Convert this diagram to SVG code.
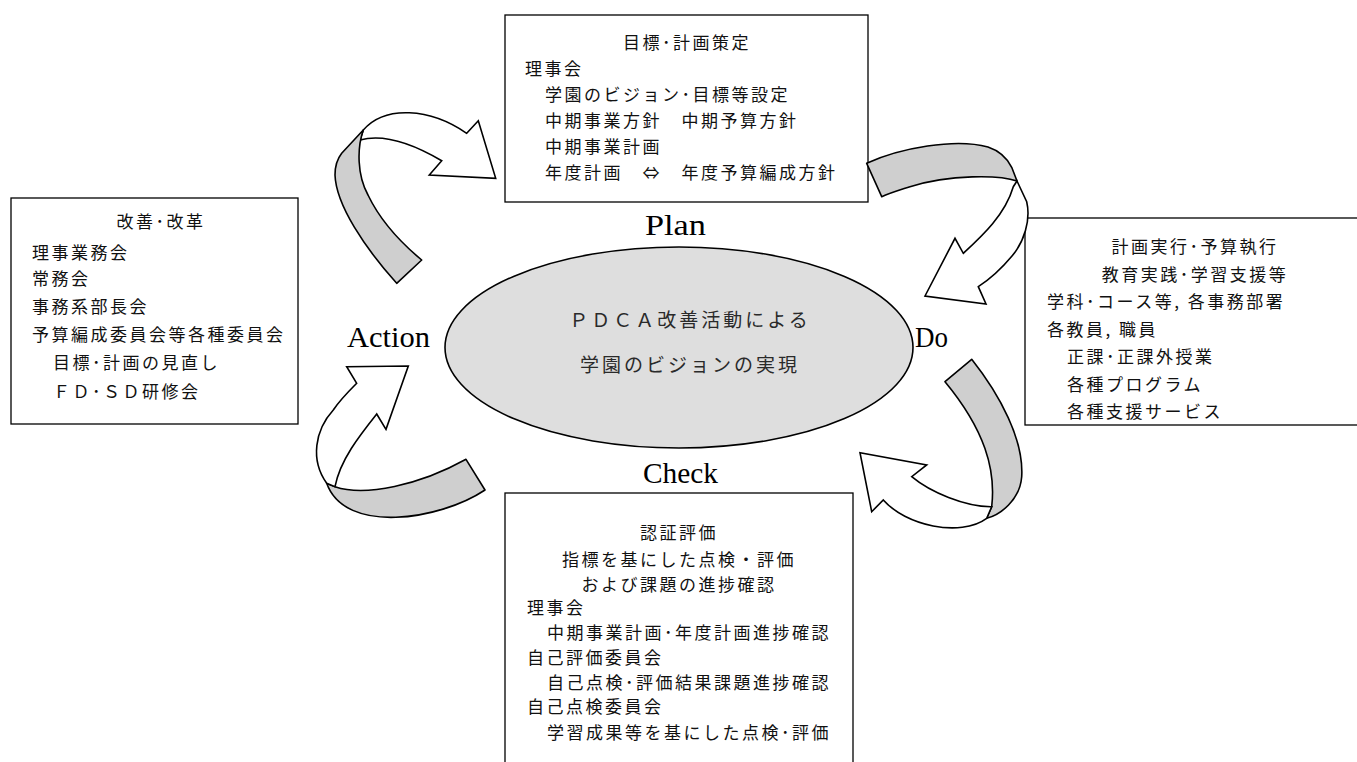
<svg xmlns="http://www.w3.org/2000/svg" width="1357" height="762" viewBox="0 0 1357 762">
<style>
.box{fill:#fff;stroke:#000;stroke-width:1.3}
.t{font-family:"Noto Sans CJK JP","Noto Sans CJK SC",sans-serif;font-size:17px;letter-spacing:2.5px;fill:#111}
.c{text-anchor:middle}
.lbl{font-family:"Liberation Serif",serif;font-size:29px;fill:#000}
.ct{font-family:"Noto Sans CJK JP",sans-serif;font-size:19px;letter-spacing:3px;fill:#2a2a2a;text-anchor:middle}
.g{fill:#cfcfcf;stroke:#000;stroke-width:1.6;stroke-linejoin:round}
.w{fill:#fff;stroke:#000;stroke-width:1.6;stroke-linejoin:miter}
</style>
<rect width="1357" height="762" fill="#fff"/>

<g id="plan-box">
<rect class="box" x="505" y="15" width="363" height="187"/>
<text class="t c" x="687" y="49">目標･計画策定</text>
<text class="t" x="525" y="75">理事会</text>
<text class="t" x="545" y="101">学園のビジョン･目標等設定</text>
<text class="t" x="545" y="127">中期事業方針　中期予算方針</text>
<text class="t" x="545" y="153">中期事業計画</text>
<text class="t" x="545" y="179">年度計画　⇔　年度予算編成方針</text>
</g>

<g id="action-box">
<rect class="box" x="11" y="198" width="287" height="226"/>
<text class="t c" x="161" y="228">改善･改革</text>
<text class="t" x="32" y="259">理事業務会</text>
<text class="t" x="32" y="285">常務会</text>
<text class="t" x="32" y="313">事務系部長会</text>
<text class="t" x="32" y="341">予算編成委員会等各種委員会</text>
<text class="t" x="53" y="369">目標･計画の見直し</text>
<text class="t" x="53" y="398">ＦＤ･ＳＤ研修会</text>
</g>

<g id="do-box">
<rect class="box" x="1025" y="218" width="340" height="207"/>
<text class="t c" x="1195" y="253">計画実行･予算執行</text>
<text class="t c" x="1195" y="281">教育実践･学習支援等</text>
<text class="t" x="1047" y="308">学科･コース等, 各事務部署</text>
<text class="t" x="1047" y="336">各教員, 職員</text>
<text class="t" x="1067" y="363">正課･正課外授業</text>
<text class="t" x="1067" y="391">各種プログラム</text>
<text class="t" x="1067" y="418">各種支援サービス</text>
</g>

<g id="check-box">
<rect class="box" x="505" y="493" width="348" height="280"/>
<text class="t c" x="679" y="539">認証評価</text>
<text class="t c" x="679" y="566">指標を基にした点検・評価</text>
<text class="t c" x="679" y="591">および課題の進捗確認</text>
<text class="t" x="527" y="614">理事会</text>
<text class="t" x="547" y="639">中期事業計画･年度計画進捗確認</text>
<text class="t" x="527" y="664">自己評価委員会</text>
<text class="t" x="547" y="689">自己点検･評価結果課題進捗確認</text>
<text class="t" x="527" y="713">自己点検委員会</text>
<text class="t" x="547" y="739">学習成果等を基にした点検･評価</text>
</g>

<g id="center">
<ellipse cx="679" cy="347.5" rx="234" ry="100.5" fill="#dedede" stroke="#000" stroke-width="1.6"/>
<text class="ct" x="690" y="327">ＰＤＣＡ改善活動による</text>
<text class="ct" x="690" y="372">学園のビジョンの実現</text>
</g>

<g id="labels">
<text class="lbl" x="645" y="235" textLength="61" lengthAdjust="spacingAndGlyphs">Plan</text>
<text class="lbl" x="915" y="347" textLength="33" lengthAdjust="spacingAndGlyphs">Do</text>
<text class="lbl" x="347" y="347" textLength="83" lengthAdjust="spacingAndGlyphs">Action</text>
<text class="lbl" x="643" y="483" textLength="75" lengthAdjust="spacingAndGlyphs">Check</text>
</g>

<g id="connectors">
<path class="w" d="M363.3,130 C385,105 430,108 466.7,133.3 L478.3,120.7 L495.7,178.3 L429.3,175 L441.7,160.7 C415,145 385,133 360,140 Z"/>
<path class="g" d="M396.7,283.3 C365,248 336,205 335,175 C335,165 338,158 341.7,153.3 L363.3,130 C357,148 357,175 368,195 C380,220 400,242 421.7,260 Z"/>
<path class="w" d="M1017,181 L1026.7,201.7 C1031,220 1024,242 1012,256 C1002,268 990,279 978.3,286.7 L986,304 L925,296 L955,238.3 L963.3,253.3 C982,236 1005,215 1013.3,186.7 Z"/>
<path class="g" d="M866.7,163.3 C900,148 955,138 988,147 C1000,151 1007,158 1011.7,167.3 L1017,181 C1000,175 950,174 910,186.7 C900,190 890,193 881.7,196.7 Z"/>
<path class="g" d="M945,381.7 L971.7,359.3 C1000,395 1024,440 1021.7,476.7 C1020,500 1000,515 986.7,518.3 L991.7,506.7 C996,470 985,430 945,381.7 Z"/>
<path class="w" d="M986.7,518.3 C960,538 905,525 883.3,500 L871.7,511.7 L860,452.7 L926.7,465 L911.7,476.7 C930,492 965,507 991.7,506.7 Z"/>
<path class="g" d="M466,459.3 L485,490 C440,520 345,535 326.7,483.3 L335,486.7 C365,497 420,485 466,459.3 Z"/>
<path class="w" d="M326.7,483.3 C310,460 315,430 333.3,410 C340,400 348,392 356.7,383.3 L346.7,366.7 L408.3,366 L386,429.3 L376.7,414 C360,435 340,460 335,486.7 Z"/>
</g>
</svg>
